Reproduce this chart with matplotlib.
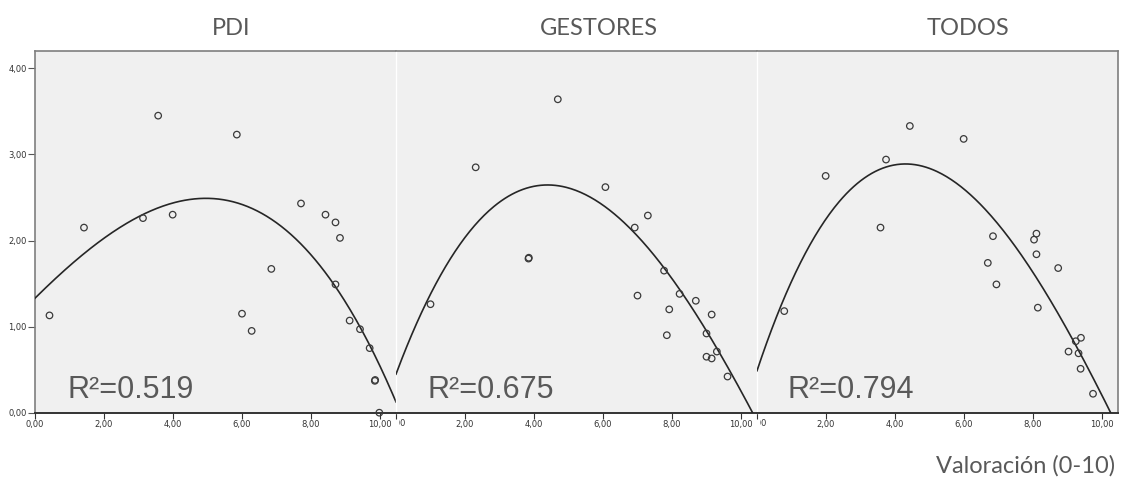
import numpy as np
import matplotlib
matplotlib.use('Agg')
import matplotlib.pyplot as plt
from matplotlib.transforms import Bbox, TransformedBbox

# ---------------- data ----------------
titles = ["PDI", "GESTORES", "TODOS"]
r2_labels = ["R²=0.519", "R²=0.675", "R²=0.794"]
x_ticks = [0, 2, 4, 6, 8, 10]
x_tick_labels = ["0,00", "2,00", "4,00", "6,00", "8,00", "10,00"]
y_ticks = [0, 1, 2, 3, 4]
y_tick_labels = ["0,00", "1,00", "2,00", "3,00", "4,00"]
x_label = "Valoración (0-10)"

pdi_x = [0.42, 1.42, 3.13, 3.57, 3.99, 5.85, 6.00, 6.28, 6.85, 7.71, 8.42, 8.71,
         8.84, 8.71, 9.12, 9.42, 9.70, 9.85, 9.86, 9.98]
pdi_y = [1.13, 2.15, 2.26, 3.45, 2.30, 3.23, 1.15, 0.95, 1.67, 2.43, 2.30, 2.21,
         2.03, 1.49, 1.07, 0.97, 0.75, 0.37, 0.38, 0.0]

ges_x = [1.00, 2.31, 3.84, 3.85, 4.69, 6.07, 6.92, 7.30, 7.00, 7.77, 8.22, 7.92,
         7.85, 8.69, 9.15, 9.00, 9.00, 9.15, 9.30, 9.61]
ges_y = [1.26, 2.85, 1.79, 1.80, 3.64, 2.62, 2.15, 2.29, 1.36, 1.65, 1.38, 1.20,
         0.90, 1.30, 1.14, 0.92, 0.65, 0.63, 0.71, 0.42]

tod_x = [0.79, 1.99, 3.58, 3.74, 4.43, 5.99, 6.84, 6.69, 6.94, 8.10, 8.03, 8.10,
         8.14, 8.73, 9.03, 9.24, 9.39, 9.32, 9.38, 9.74]
tod_y = [1.18, 2.75, 2.15, 2.94, 3.33, 3.18, 2.05, 1.74, 1.49, 2.08, 2.01, 1.84,
         1.22, 1.68, 0.71, 0.83, 0.87, 0.69, 0.51, 0.22]

# fitted curves
pdi_curve_x = [0.0, 0.92, 2.0, 3.13, 3.82, 4.78, 5.75, 6.71, 7.68, 8.71, 9.42, 10.48]
pdi_curve_y = [1.31, 1.70, 2.05, 2.28, 2.41, 2.49, 2.43, 2.28, 1.99, 1.49, 0.97, 0.11]

ges_curve_x = [0.04, 0.96, 1.92, 2.89, 4.19, 5.30, 6.27, 6.92, 7.77, 8.69, 9.30, 10.35]
ges_curve_y = [0.50, 1.29, 2.05, 2.45, 2.60, 2.51, 2.32, 2.15, 1.70, 1.15, 0.71, 0.0]

tod_curve_x = [0.02, 0.94, 1.90, 2.87, 4.27, 5.29, 6.25, 7.22, 8.18, 9.15, 10.31]
tod_curve_y = [0.55, 1.43, 2.16, 2.66, 2.90, 2.80, 2.53, 2.10, 1.50, 0.77, 0.0]

panels = [
    (pdi_x, pdi_y, pdi_curve_x, pdi_curve_y),
    (ges_x, ges_y, ges_curve_x, ges_curve_y),
    (tod_x, tod_y, tod_curve_x, tod_curve_y),
]

# ---------------- layout ----------------
W, H = 1121, 482
fig = plt.figure(figsize=(W / 100, H / 100), dpi=100)
fig.patch.set_facecolor('white')

left_px, right_px = 35, 1118
top_px, bottom_px = 51, 412.7
pw = (right_px - left_px) / 3.0
px_per_unit = 34.5
xmax = pw / px_per_unit
ymax = (bottom_px - top_px) / 86.1

bg = '#F0F0F0'
frame = '#7F7F7F'
txt_grey = '#595959'
tick_font = ['Liberation Sans Narrow', 'DejaVu Sans Condensed', 'DejaVu Sans']
tick_fs = 6.0

title_cx = [231, 599, 968]
r2_left = [67, 427, 788]

for i, (sx, sy, cx, cy) in enumerate(panels):
    x0 = left_px + i * pw
    ax = fig.add_axes([x0 / W, 1 - bottom_px / H, pw / W, (bottom_px - top_px) / H])
    ax.set_facecolor(bg)
    ax.set_xlim(0, xmax)
    ax.set_ylim(0, ymax)

    coef = np.polyfit(cx, cy, 3)
    xx = np.linspace(0, xmax, 300)
    ax.plot(xx, np.polyval(coef, xx), color='#262626', lw=1.2, zorder=3)

    ax.scatter(sx, sy, s=22, facecolors='none', edgecolors='#3a3a3a',
               linewidths=0.9, zorder=4, clip_on=False)

    for side in ['top', 'left', 'right']:
        ax.spines[side].set_color(frame)
        ax.spines[side].set_linewidth(1.2)
    if i > 0:
        ax.spines['left'].set_color('white')
        ax.spines['left'].set_linewidth(1.0)
    if i < 2:
        ax.spines['right'].set_visible(False)
    ax.spines['bottom'].set_color('#333333')
    ax.spines['bottom'].set_linewidth(1.4)

    ax.set_xticks(x_ticks)
    if i == 0:
        ax.set_xticklabels(x_tick_labels, fontsize=tick_fs, family=tick_font, color='#333333')
    else:
        ax.set_xticklabels([''] + x_tick_labels[1:], fontsize=tick_fs, family=tick_font,
                           color='#333333')
        # the "0,00" label of the inner panels is partly hidden, as in the original
        t0 = fig.text((x0 + 1) / W, 1 - 419 / H, x_tick_labels[0], fontsize=tick_fs,
                      family=tick_font, color='#333333', ha='center', va='top')
        t0.set_clip_on(True)
        t0.set_clip_box(TransformedBbox(Bbox([[(x0 + 3) / W, 0], [1, 1]]),
                                        fig.transFigure))
    ax.tick_params(axis='x', direction='out', length=4, width=0.8, color='#333333', pad=1)

    if i == 0:
        ax.set_yticks(y_ticks)
        ax.set_yticklabels(y_tick_labels, fontsize=tick_fs, family=tick_font, color='#333333')
        ax.tick_params(axis='y', direction='out', length=5, width=0.8, color='#555555', pad=1)
    else:
        ax.set_yticks([])

    ax.text(r2_left[i] / W, 1 - 398 / H, r2_labels[i], transform=fig.transFigure,
            fontsize=22, family=['Liberation Sans', 'DejaVu Sans'], color=txt_grey,
            ha='left', va='baseline', zorder=5)

    fig.text(title_cx[i] / W, 1 - 35 / H, titles[i], fontsize=17,
             family=['Lato', 'DejaVu Sans'], color=txt_grey, ha='center', va='baseline')

fig.text(1115 / W, 1 - 473 / H, x_label, fontsize=17, family=['Lato', 'DejaVu Sans'],
         color=txt_grey, ha='right', va='baseline')

fig.savefig('out.png', dpi=100, facecolor='white')
